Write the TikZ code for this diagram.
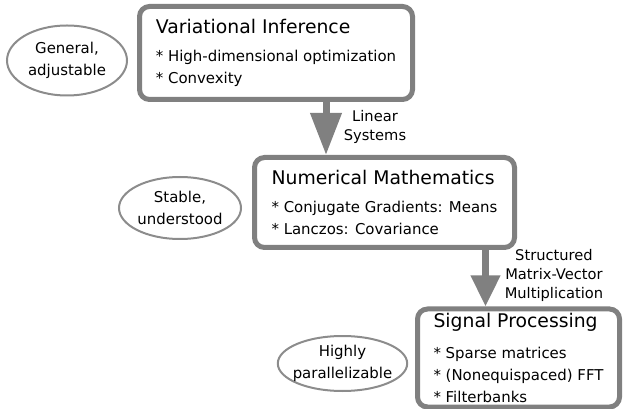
\documentclass[tikz,border=0pt]{standalone}
\usepackage{fontspec}
\setmainfont{DejaVu Sans}
\usetikzlibrary{arrows.meta,shapes.geometric}

\begin{document}
\begin{tikzpicture}[
        x=0.75pt, y=-0.75pt,
        font=\fontsize{11.2}{16.5}\selectfont,
        stage/.style={rectangle, draw=black!50, line width=3.75pt, rounded corners=7.5pt, fill=white, align=left, inner sep=0pt},
        trait/.style={ellipse, draw=black!45, line width=1.5pt, align=center, inner sep=0pt},
        fatarrow/.style={-{Triangle[length=31.5pt, width=22.5pt]}, line width=5.25pt, draw=black!50},
        link/.style={align=center, font=\fontsize{11}{14.25}\selectfont}
    ]
    \useasboundingbox (0,0) rectangle (624,409);

    \node[stage, minimum width=204.75pt, minimum height=69.75pt] (vi) at (276,53) {{\fontsize{14.1}{16.5}\selectfont Variational Inference}\\[4pt]
        * High-dimensional optimization\\
        * Convexity};
    \node[stage, minimum width=195pt, minimum height=67.5pt] (nm) at (384.5,202.5) {{\fontsize{14.1}{16.5}\selectfont Numerical Mathematics}\\[5pt]
        * Conjugate Gradients: Means\\
        * Lanczos: Covariance};
    \node[stage, minimum width=151.5pt, minimum height=73.5pt] (sp) at (518.5,358) {{\fontsize{14.1}{16.5}\selectfont Signal Processing}\\[7pt]
        * Sparse matrices\\
        * (Nonequispaced) FFT\\
        * Filterbanks};

    \node[trait, minimum width=90pt, minimum height=52.5pt] (general) at (67,60.5) {General,\\adjustable};
    \node[trait, minimum width=91.5pt, minimum height=46.5pt] (stable) at (180,208) {Stable,\\understood};
    \node[trait, inner sep=-3pt, minimum width=89.25pt, minimum height=41.25pt] (parallel) at (342.5,363.5) {Highly\\parallelizable};

    \coordinate (shaft1) at (326,0);
    \coordinate (shaft2) at (485.5,0);
    \draw[fatarrow] (vi.south -| shaft1) -- (nm.north -| shaft1);
    \draw[fatarrow, -{Triangle[length=23.25pt, width=21pt]}] (nm.south -| shaft2) -- (sp.north -| shaft2);

    \node[link] (linsys) at (375,127) {Linear\\Systems};
    \node[link] (mvm) at (554,275) {Structured\\Matrix-Vector\\Multiplication};
\end{tikzpicture}
\end{document}
